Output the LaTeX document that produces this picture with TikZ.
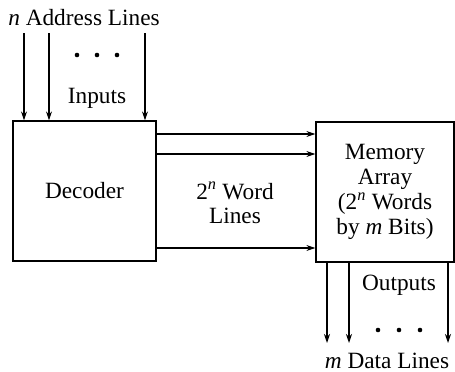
\documentclass[tikz,border=0pt]{standalone}
\usepackage{fontspec}
\setmainfont{Liberation Serif}
\usetikzlibrary{arrows.meta}
\begin{document}
\begin{tikzpicture}[x=1pt,y=-1pt,
  every node/.style={font=\fontsize{23.3}{24}\selectfont},
  blk/.style={draw,line width=1.2pt,inner sep=0pt,align=center},
  conn/.style={line width=1.1pt,-{Stealth[length=9pt,width=6pt]}},
  lbl/.style={anchor=base,inner sep=0pt},
  dot/.style={circle,fill,inner sep=0pt,minimum size=4.6pt}]
\useasboundingbox (0,0) rectangle (455,372);
\node[blk,minimum width=143pt,minimum height=140pt] (dec) at (84.5,191) {Decoder};
\node[blk,minimum width=138pt,minimum height=140pt,font=\fontsize{23.3}{25}\selectfont] (mem) at (385,192)
  {Memory\\Array\\(2\textsuperscript{\itshape n} Words\\by \textit{m} Bits)};
% labels
\node[lbl] (addr) at (84,25) {\textit{n} Address Lines};
\node[lbl] (inp) at (97,103) {Inputs};
\node[lbl,align=center] (wl) at (235,223) {2\textsuperscript{\itshape n} Word\\Lines};
\node[lbl] (outp) at (399,290) {Outputs};
\node[lbl] (data) at (387,368) {\textit{m} Data Lines};
% dots
\node[dot] (d1) at (77,55) {};
\node[dot] (d2) at (97,55) {};
\node[dot] (d3) at (117,55) {};
\node[dot] (d4) at (378,330) {};
\node[dot] (d5) at (399,330) {};
\node[dot] (d6) at (420,330) {};
% input arrows
\coordinate (i1) at (24,33);
\coordinate (i2) at (49,33);
\coordinate (i3) at (145,33);
\foreach \c in {i1,i2,i3} \draw[conn] (\c) -- (\c |- dec.north);
% word lines
\coordinate (w1) at (0,134);
\coordinate (w2) at (0,154);
\coordinate (w3) at (0,248);
\foreach \c in {w1,w2,w3} \draw[conn] (dec.east |- \c) -- (mem.west |- \c);
% outputs
\coordinate (o1) at (327,343);
\coordinate (o2) at (349,343);
\coordinate (o3) at (448,343);
\foreach \c in {o1,o2,o3} \draw[conn] (\c |- mem.south) -- (\c);
\end{tikzpicture}
\end{document}
